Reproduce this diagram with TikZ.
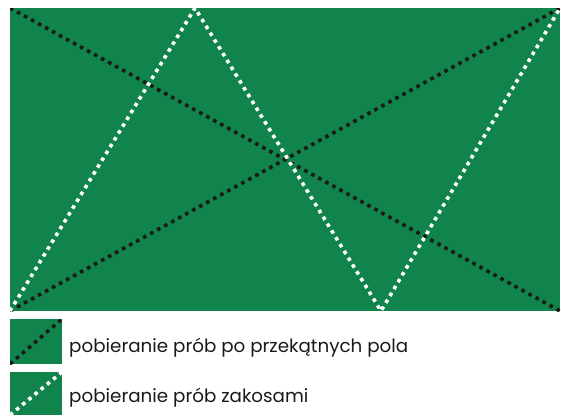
\documentclass[tikz,border=0pt]{standalone}
\usepackage{fontspec}
\setmainfont{Poppins}
\definecolor{fieldgreen}{HTML}{10844A}
\definecolor{dotblack}{HTML}{1A1A1A}
\begin{document}
\begin{tikzpicture}[x=1pt,y=-1pt,
  blackdots/.style={draw=dotblack,line width=3.6pt,dash pattern=on 3.6pt off 4.4pt},
  whitedots/.style={draw=white,line width=3.6pt,dash pattern=on 3.6pt off 4.4pt},
  legendtext/.style={anchor=base west,font=\fontsize{18.3}{20}\selectfont,text=dotblack,inner sep=0pt}]
\useasboundingbox (0,0) rectangle (561,415);
\fill[fieldgreen] (10,8) rectangle (560,311);
\coordinate (tl) at (10,8);
\coordinate (tr) at (560,8);
\coordinate (bl) at (10,311);
\coordinate (br) at (560,311);
\coordinate (z1) at (195,8);
\coordinate (z2) at (381,311);
\begin{scope}
\clip (10,8) rectangle (560,311);
\draw[blackdots] (tl) -- (br);
\draw[blackdots] (bl) -- (tr);
\draw[whitedots] (bl) -- (z1) -- (z2) -- (tr);
\end{scope}
% legend
\fill[fieldgreen] (10,319) rectangle (62,364);
\begin{scope}
\clip (10,319) rectangle (62,364);
\draw[blackdots] (10,364) -- (62,319);
\end{scope}
\fill[fieldgreen] (10,372) rectangle (62,415);
\begin{scope}
\clip (10,372) rectangle (62,415);
\draw[whitedots] (10,415) -- (62,372);
\end{scope}
\node[legendtext] (l1) at (69,352) {pobieranie prób po przekątnych pola};
\node[legendtext] (l2) at (69,402.5) {pobieranie prób zakosami};
\end{tikzpicture}
\end{document}
